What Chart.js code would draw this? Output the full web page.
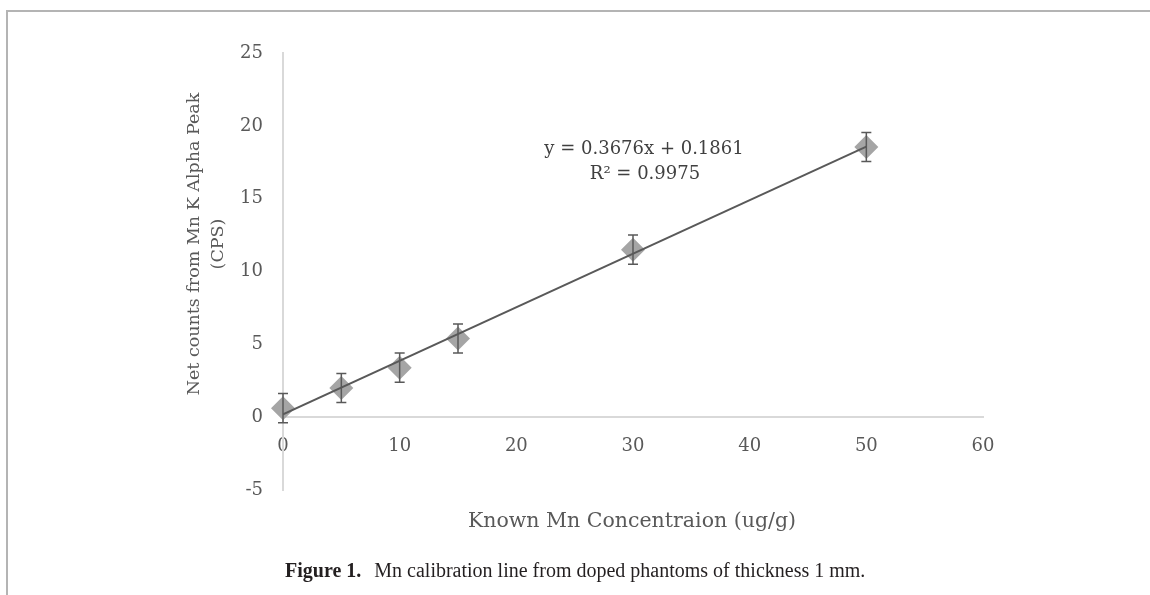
<!DOCTYPE html>
<html lang="en">
<head>
    <meta charset="UTF-8">
    <title>Mn calibration line</title>
    <script src="https://cdn.jsdelivr.net/npm/chart.js"></script>
    <style>
        body { margin: 0; background: #fff; }
        #wrap { position: relative; width: 1150px; height: 595px; }
        #frame { position: absolute; left: 6px; top: 10px; right: 0; bottom: 0;
                 border-top: 2px solid #b4b4b4; border-left: 2px solid #b4b4b4; }
        #caption { position: absolute; left: 285px; top: 559px; font-family: "Liberation Serif", serif;
                   font-size: 20px; color: #231f20; white-space: nowrap; }
        #caption b { margin-right: 8px; }
    </style>
</head>
<body>

<div id="wrap">
    <div id="frame"></div>
    <canvas id="calChart" width="1150" height="595"></canvas>
    <div id="caption"><b>Figure 1.</b> Mn calibration line from doped phantoms of thickness 1 mm.</div>
</div>

<script>
    const concentration = [0, 5, 10, 15, 30, 50];
    const netCounts = [0.62, 2.0, 3.4, 5.4, 11.5, 18.55];
    const errors = [1, 1, 1, 1, 1, 1];

    // linear trend line end points
    const trendX = [0, 50];
    const trendY = [0.19, 18.57];

    const xTicks = [0, 10, 20, 30, 40, 50, 60];
    const yTicks = [-5, 0, 5, 10, 15, 20, 25];

    const tickFont = { family: 'DejaVu Serif', size: 18 };
    const tickColor = '#595959';

    // error bars + axis titles + equation text
    const extras = {
        id: 'extras',
        afterDatasetsDraw(chart) {
            const c = chart.ctx;
            const xs = chart.scales.x, ys = chart.scales.y;
            c.save();
            c.strokeStyle = '#595959';
            c.lineWidth = 1.5;
            concentration.forEach((x, i) => {
                const px = xs.getPixelForValue(x);
                const top = ys.getPixelForValue(netCounts[i] + errors[i]);
                const bot = ys.getPixelForValue(netCounts[i] - errors[i]);
                c.beginPath();
                c.moveTo(px, top); c.lineTo(px, bot);
                c.moveTo(px - 5, top); c.lineTo(px + 5, top);
                c.moveTo(px - 5, bot); c.lineTo(px + 5, bot);
                c.stroke();
            });
            c.restore();
        },
        afterDraw(chart) {
            const c = chart.ctx;
            c.save();
            c.fillStyle = '#595959';
            c.textAlign = 'center';
            c.textBaseline = 'middle';
            c.font = '20.5px "DejaVu Serif"';
            c.fillText('Known Mn Concentraion (ug/g)', 632, 522);

            c.font = '17.5px "DejaVu Serif"';
            c.save();
            c.translate(206, 244);
            c.rotate(-Math.PI / 2);
            c.fillText('Net counts from Mn K Alpha Peak', 0, -12);
            c.fillText('(CPS)', 0, 12);
            c.restore();

            c.fillStyle = '#404040';
            c.font = '18px "DejaVu Serif"';
            c.fillText('y = 0.3676x + 0.1861', 644, 149);
            c.fillText('R² = 0.9975', 645, 174);
            c.restore();
        }
    };

    const ctx = document.getElementById('calChart').getContext('2d');
    const calChart = new Chart(ctx, {
        type: 'scatter',
        data: {
            datasets: [{
                label: 'Mn',
                data: concentration.map((x, i) => ({ x: x, y: netCounts[i] })),
                pointStyle: 'rectRot',
                pointRadius: 12,
                pointHoverRadius: 12,
                backgroundColor: '#a5a5a5',
                borderColor: '#a5a5a5',
                borderWidth: 0,
                clip: false,
                order: 2
            }, {
                label: 'Linear',
                type: 'line',
                data: trendX.map((x, i) => ({ x: x, y: trendY[i] })),
                borderColor: '#595959',
                borderWidth: 2,
                pointRadius: 0,
                fill: false,
                order: 1
            }]
        },
        options: {
            responsive: false,
            animation: false,
            layout: { padding: { left: 0, top: 53, right: 167, bottom: 105 } },
            plugins: { legend: { display: false }, tooltip: { enabled: false } },
            scales: {
                x: {
                    type: 'linear',
                    position: { y: 0 },
                    min: 0, max: 60,
                    afterBuildTicks: (s) => { s.ticks = xTicks.map(v => ({ value: v })); },
                    grid: { display: false, drawTicks: false },
                    border: { color: '#d9d9d9', width: 2 },
                    ticks: { font: tickFont, color: tickColor, padding: 18 }
                },
                y: {
                    type: 'linear',
                    position: 'left',
                    min: -5, max: 25,
                    afterBuildTicks: (s) => { s.ticks = yTicks.map(v => ({ value: v })); },
                    afterFit: (s) => { s.width = 283; },
                    grid: { display: false, drawTicks: false },
                    border: { color: '#d9d9d9', width: 2 },
                    ticks: { font: tickFont, color: tickColor, padding: 20 }
                }
            }
        },
        plugins: [extras]
    });
</script>

</body>
</html>
